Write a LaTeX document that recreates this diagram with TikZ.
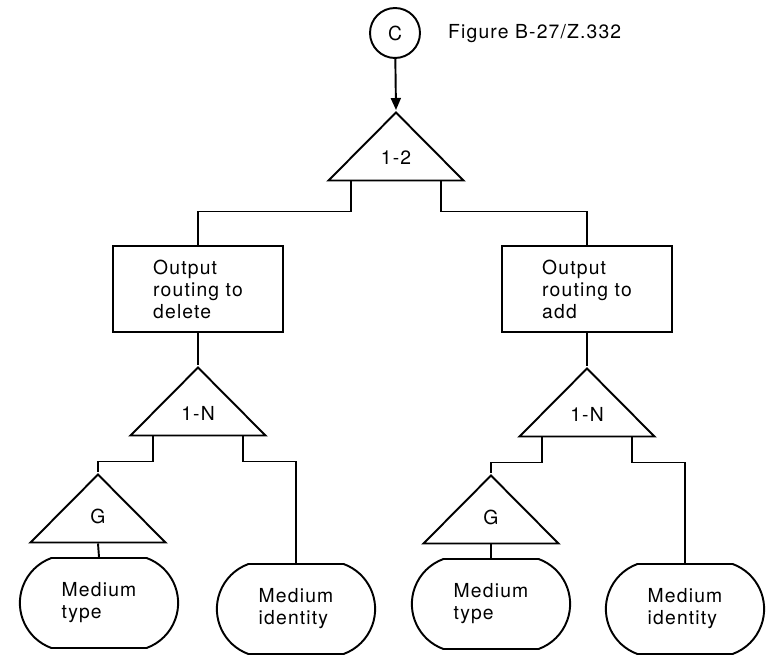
\documentclass[tikz,border=0pt]{standalone}
\usepackage{fontspec}
\setmainfont{TeX Gyre Heros}[LetterSpace=6]
\usetikzlibrary{shapes.geometric,shapes.misc,arrows.meta,calc}

\tikzset{
  line/.style={line width=1.1pt},
  tri/.style={draw, line, isosceles triangle, isosceles triangle stretches,
    shape border rotate=90, minimum width=2.7cm, minimum height=1.36cm, inner sep=0pt, anchor=apex},
  proc/.style={draw, line, rectangle, minimum width=3.4cm, minimum height=1.72cm, align=left},
  term/.style={draw, line, rounded rectangle, rounded rectangle arc length=140,
    minimum width=3.4cm, minimum height=1.8cm, align=left},
}

\begin{document}
\begin{tikzpicture}[x=0.02cm, y=-0.02cm, every node/.style={font=\fontsize{11}{12.5}\selectfont}]
    \useasboundingbox (0,0) rectangle (768,655);
    % top
    \node[draw, line, circle, minimum size=1cm, inner sep=0pt] (c) at (395,33) {C};
    \node[anchor=west] (fig) at (442,34) {Figure B-27/Z.332};
    \node[tri] (t12) at (396,110) {1-2};
    \draw[line, -{Triangle[length=2.4mm,width=2mm]}] (c) -- (t12.apex);

    % delete branch
    \node[proc] (outdel) at (198,289) {Output\\routing to\\delete};
    \node[tri] (tnl) at (198,365) {1-N};
    \node[tri] (gl) at (98,472) {G};
    \node[term] (typel) at (99,603) {Medium\\type};
    \node[term] (idl) at (296,609) {Medium\\identity};

    % add branch
    \node[proc] (outadd) at (587,289) {Output\\routing to\\add};
    \node[tri] (tnr) at (587,366) {1-N};
    \node[tri] (gr) at (491,473) {G};
    \node[term] (typer) at (491,604) {Medium\\type};
    \node[term] (idr) at (685,609) {Medium\\identity};

    % connectors
    \draw[line] ($(t12.left corner)!0.18!(t12.right corner)$) -- ++(0,30) -| (outdel.north);
    \draw[line] ($(t12.left corner)!0.82!(t12.right corner)$) -- ++(0,30) -| (outadd.north);
    \draw[line] (outdel.south) -- (tnl.apex);
    \draw[line] (outadd.south) -- (tnr.apex);
    \draw[line] ($(tnl.left corner)!0.18!(tnl.right corner)$) -- ++(0,25) -| (gl.apex);
    \draw[line] ($(tnl.left corner)!0.82!(tnl.right corner)$) -- ++(0,25) -| (idl.north);
    \draw[line] ($(tnr.left corner)!0.18!(tnr.right corner)$) -- ++(0,25) -| (gr.apex);
    \draw[line] ($(tnr.left corner)!0.82!(tnr.right corner)$) -- ++(0,25) -| (idr.north);
    \draw[line] ($(gl.left corner)!0.5!(gl.right corner)$) -- (typel.north);
    \draw[line] ($(gr.left corner)!0.5!(gr.right corner)$) -- (typer.north);
\end{tikzpicture}
\end{document}
